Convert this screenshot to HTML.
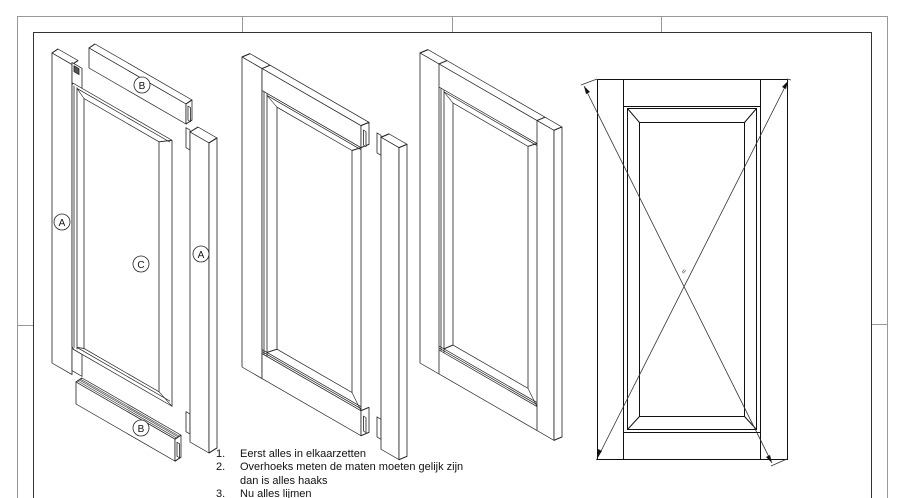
<!DOCTYPE html>
<html><head><meta charset="utf-8"><style>
html,body{margin:0;padding:0;background:#fff;width:912px;height:498px;overflow:hidden}
svg{display:block}
text{font-family:"Liberation Sans",sans-serif}
</style></head><body>
<svg width="912" height="498" viewBox="0 0 912 498" xmlns="http://www.w3.org/2000/svg">
<g fill="none" stroke="#999" stroke-width="1">
<path d="M17.5 498V16.5H887.5V498"/>
<path d="M242.5 16.5V32M452.5 16.5V32M661.5 16.5V32"/>
<path d="M17 325.5H33M872 324.5H887"/>
</g>
<path d="M33.5 498V32.5H871.5V498" fill="none" stroke="#333" stroke-width="1"/>

<g fill="#fff" stroke="#222" stroke-width="0.8" stroke-linejoin="round">

<!-- Door 1 exploded: left stile A -->
<g transform="translate(52,53) skewY(30)">
<polygon points="0,0 6,-7.5 26,-7.5 20,0"/>
<rect x="0" y="0" width="20" height="310"/>
<rect x="20" y="-2" width="10" height="23"/>
<rect x="22" y="0" width="5" height="6" fill="#555"/>
<rect x="20" y="284" width="10" height="22"/>
<!-- panel C -->
<polygon points="20,20 21,18 120,18 120,284 22,284 20,282"/>
<path d="M22 20V282M25 20V282M25 21H118M25 280H118"/>
<rect x="32" y="27" width="75" height="250"/>
<path d="M25 21L32 27M120 18L107 27M25 280L32 277M120 284L107 277"/>
</g>
<!-- B top rail -->
<g transform="translate(89,48) skewY(30)">
<polygon points="0,0 6,-7.5 103,-7.5 97,0"/>
<rect x="0" y="0" width="97" height="20"/>
<polygon points="97,0 103,-7.5 103,12.5 97,20"/>
<rect x="99" y="1" width="2.5" height="14"/>
</g>
<!-- B bottom rail -->
<g transform="translate(76,382) skewY(30)">
<polygon points="0,0 6,-7.5 105,-7.5 99,0"/>
<path d="M2 -2H101M3 -4H102M4 -5.5H103" stroke="#444"/>
<rect x="0" y="0" width="99" height="22"/>
<polygon points="99,0 105,-7.5 105,14.5 99,22"/>
<rect x="101" y="2" width="2.5" height="14"/>
</g>
<!-- A right stile -->
<g transform="translate(190,132) skewY(30)">
<rect x="-4" y="-2" width="4" height="20"/>
<rect x="-4" y="282" width="4" height="20"/>
<polygon points="0,0 8,-9.6 27,-9.6 19,0"/>
<rect x="0" y="0" width="19" height="310"/>
<polygon points="19,0 27,-9.6 27,300.4 19,310"/>
</g>

<!-- Door 2 -->
<g transform="translate(242,57) skewY(30)">
<polygon points="0,0 8,-8 127,-8 119,0"/>
<path d="M20 0L28 -8"/>
<rect x="0" y="0" width="20" height="310"/>
<rect x="20" y="0" width="99" height="22"/>
<rect x="20" y="285" width="99" height="25"/>
<polygon points="119,0 127,-8 127,14 119,22"/>
<polygon points="119,285 127,277 127,302 119,310"/>
<rect x="121.5" y="3" width="2.5" height="15"/>
<rect x="121.5" y="289" width="2.5" height="15"/>
<rect x="20" y="22" width="99" height="263"/>
<path d="M22 22V285M25 22V285M25 24H119M20 281H119M20 283H119"/>
<rect x="35" y="30" width="75" height="242"/>
<path d="M25 24L35 30M119 22L110 30M25 281L35 272M119 285L110 272"/>
<!-- separate right stile -->
<rect x="135" y="-2" width="4" height="20"/>
<rect x="135" y="282" width="4" height="20"/>
<polygon points="139,0 147,-8 165,-8 157,0"/>
<rect x="139" y="0" width="18" height="312"/>
<polygon points="157,0 165,-8 165,304 157,312"/>
</g>

<!-- Door 3 -->
<g transform="translate(420,53) skewY(30)">
<polygon points="0,0 8,-8 142,-8 134,0"/>
<path d="M19 0L27 -8M117 0L125 -8"/>
<rect x="0" y="0" width="134" height="310"/>
<polygon points="134,0 142,-8 142,302 134,310"/>
<path d="M19 0V310M117 0V310M19 23H117M19 286H117"/>
<path d="M21 23V286M24 23V286M24 25H117M19 282H117M19 284H117"/>
<rect x="33" y="31" width="75" height="242"/>
<path d="M24 25L33 31M117 23L108 31M24 282L33 273M117 286L108 273"/>
</g>
</g>

<!-- labels -->
<g fill="#fff" stroke="#222" stroke-width="0.8">
<circle cx="62" cy="222" r="8"/>
<circle cx="142" cy="85" r="8"/>
<circle cx="141" cy="264" r="8"/>
<circle cx="201" cy="254" r="8"/>
<circle cx="141" cy="428" r="8"/>
</g>
<g font-size="10" text-anchor="middle" fill="#111">
<text x="62" y="226">A</text>
<text x="142" y="89">B</text>
<text x="141" y="268">C</text>
<text x="201" y="258">A</text>
<text x="141" y="432">B</text>
</g>

<!-- flat door -->
<g fill="none" stroke="#111" stroke-width="1">
<rect x="597.5" y="79.5" width="190" height="380"/>
<path d="M623.5 79.5V459.5M760.5 79.5V459.5M623.5 106.5H760.5M623.5 432.5H760.5"/>
<path d="M627.5 108.5H756.5V429.5H627.5Z"/>
<rect x="639.5" y="122.5" width="105" height="294"/>
<path d="M627.5 108.5L639.5 122.5M756.5 108.5L744.5 122.5M627.5 429.5L639.5 416.5M756.5 429.5L744.5 416.5"/>
</g>
<g fill="none" stroke="#333" stroke-width="0.8">
<path d="M584 86L772 463M598 457L788 81"/>
<path d="M597 79L581 85M787 79L791 80M787 459L771 466M597 459L596 460"/>
</g>
<g fill="#111">
<polygon points="584,86 586,94 590,92"/>
<polygon points="772,463 766,457 770,455"/>
<polygon points="788,81 782,87 786,89"/>
<polygon points="598,457 598,449 602,451"/>
</g>
<text x="680" y="274" font-size="8" fill="#335" transform="rotate(-60 683 270)">≈</text>

<!-- notes -->
<g font-size="11" fill="#111">
<text x="216" y="457">1.</text><text x="240" y="457">Eerst alles in elkaarzetten</text>
<text x="216" y="470">2.</text><text x="240" y="470">Overhoeks meten de maten moeten gelijk zijn</text>
<text x="240" y="484">dan is alles haaks</text>
<text x="216" y="497">3.</text><text x="240" y="497">Nu alles lijmen</text>
</g>
</svg>
</body></html>
